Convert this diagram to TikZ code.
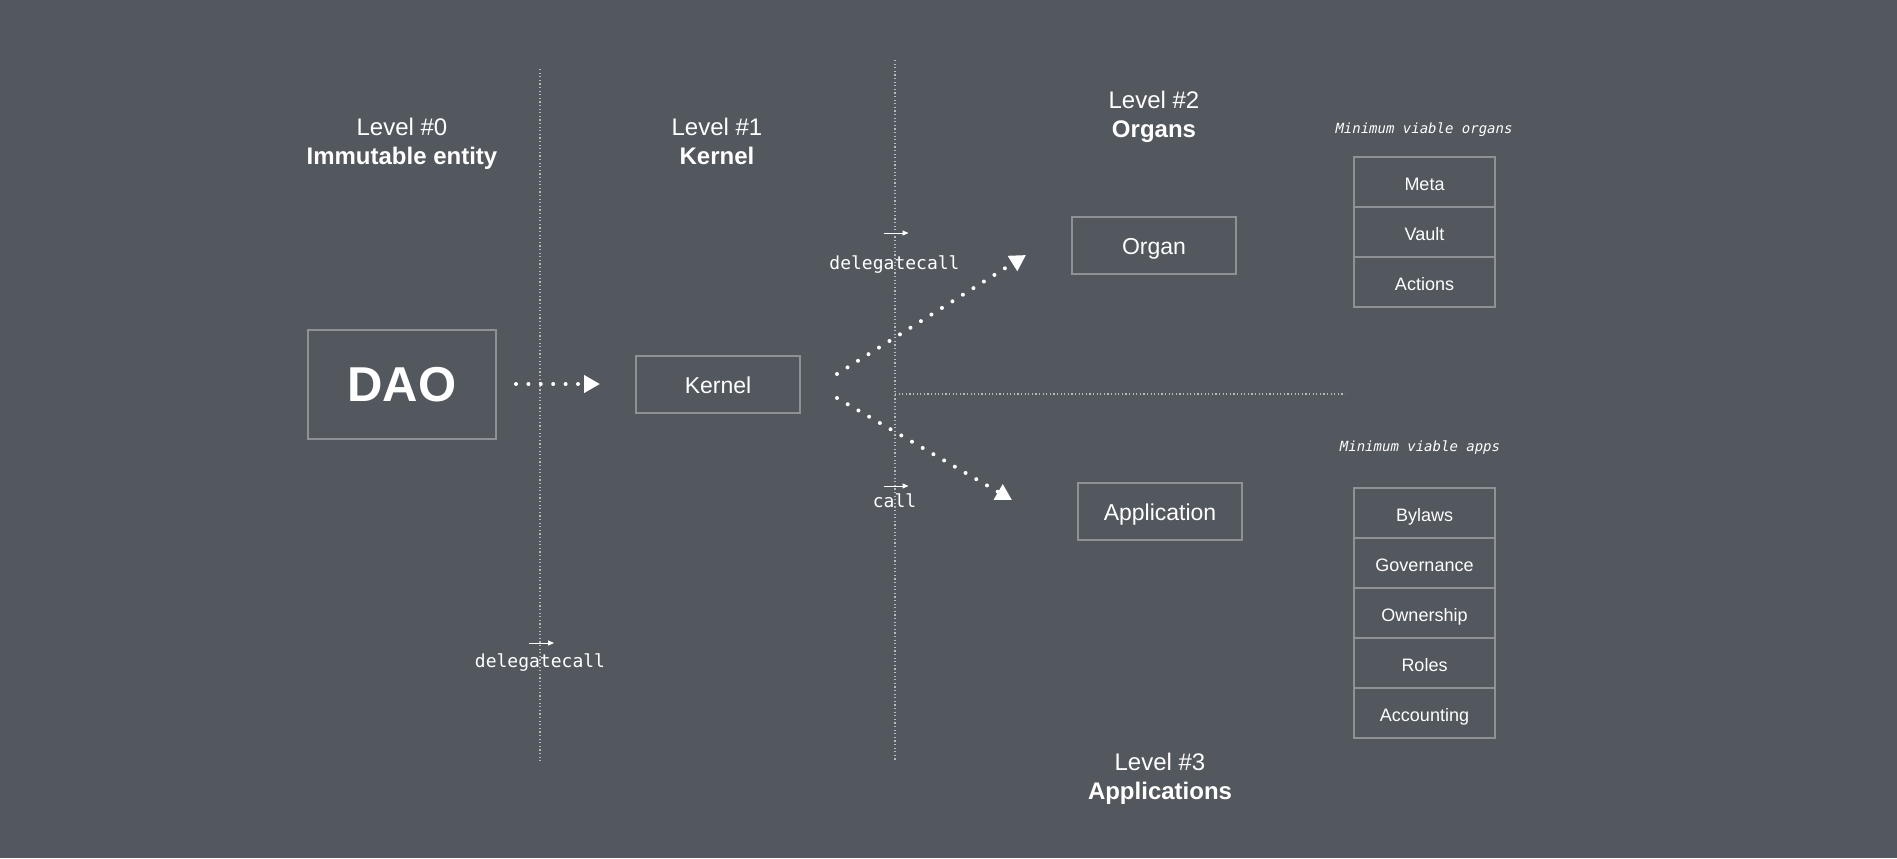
\documentclass[tikz,border=0pt]{standalone}
\usepackage{fontspec}
\setmainfont{Liberation Sans}
\setmonofont{DejaVu Sans Mono}
\usetikzlibrary{arrows.meta,positioning}
\definecolor{bg}{HTML}{53575E}
\definecolor{edge}{HTML}{8E9196}
\definecolor{guide}{HTML}{B8BABE}
\tikzset{
  box/.style={draw=edge, line width=1pt, text=white, minimum width=82pt, minimum height=28.5pt, text height=9.5pt, text depth=0pt, font=\fontsize{11.5}{14}\selectfont},
  cell/.style={draw=edge, line width=1pt, text=white, minimum width=70.5pt, minimum height=25pt, text height=8.5pt, text depth=0pt, outer sep=0pt, font=\fontsize{9}{11}\selectfont},
  level/.style={text=white, align=center, font=\fontsize{12}{14.5}\selectfont},
  code/.style={text=white, anchor=base, inner sep=0pt, font=\ttfamily\fontsize{9}{11}\selectfont},
  note/.style={text=white, font=\ttfamily\itshape\fontsize{7}{9}\selectfont},
  guide/.style={draw=guide, line width=0.6pt, dash pattern=on 0.6pt off 1.2pt},
  flow/.style={draw=white, line width=2pt, line cap=round, dash pattern=on 0pt off 6.2pt, -{Triangle[length=8pt,width=8.5pt]}},
  tag/.style={draw=white, line width=0.5pt, -{Triangle[length=3pt,width=2.5pt]}}
}
\begin{document}
\begin{tikzpicture}[x=0.5pt, y=-0.5pt]
\fill[bg] (0,0) rectangle (1897,858);
\useasboundingbox (0,0) rectangle (1897,858);

% level guides
\draw[guide] (540,69) -- (540,762);
\draw[guide] (895,60) -- (895,760);
\draw[guide] (895,394) -- (1345,394);

% level headings
\node (lvl0) at (402,144) [level] {Level \#0\\\textbf{Immutable entity}};
\node (lvl1) at (717,141.5) [level] {Level \#1\\\textbf{Kernel}};
\node (lvl2) at (1154,117) [level] {Level \#2\\\textbf{Organs}};
\node (lvl3) at (1160,779) [level] {Level \#3\\\textbf{Applications}};

% main boxes
\node (dao) at (402,384) [box, minimum width=94pt, minimum height=54.5pt, text height=17.5pt, font=\bfseries\fontsize{24.5}{28}\selectfont] {DAO};
\node (kernel) at (718,384) [box] {Kernel};
\node (organ) at (1154,245) [box] {Organ};
\node (app) at (1160,511) [box] {Application};

% minimum viable organs
\node (note organs) at (1424,130) [note] {Minimum viable organs};
\node (meta) at (1424.5,182) [cell] {Meta};
\node (vault) [cell, below=0pt of meta] {Vault};
\node (actions) [cell, below=0pt of vault] {Actions};

% minimum viable apps
\node (note apps) at (1420,448) [note] {Minimum viable apps};
\node (bylaws) at (1424.5,513) [cell] {Bylaws};
\node (governance) [cell, below=0pt of bylaws] {Governance};
\node (ownership) [cell, below=0pt of governance] {Ownership};
\node (roles) [cell, below=0pt of ownership] {Roles};
\node (accounting) [cell, below=0pt of roles] {Accounting};

% calls
\coordinate (fork up) at (837,374);
\coordinate (fork down) at (837,398);
\coordinate (organ in) at (1026,255);
\coordinate (app in) at (1012,500);

\draw[flow, shorten <=9.5pt, shorten >=17.5pt] (dao) -- (kernel);
\draw[flow] (fork up) -- (organ in);
\draw[flow] (fork down) -- (app in);

% call labels
\node (dc kernel) at (540,667) [code] {delegatecall};
\node (dc organ) at (894.5,269) [code] {delegatecall};
\node (call app) at (894.5,507) [code] {call};

\draw[tag] ([shift={(-11,-24)}]dc kernel.base) -- ([shift={(14,-24)}]dc kernel.base);
\draw[tag] ([shift={(-11,-36)}]dc organ.base) -- ([shift={(14,-36)}]dc organ.base);
\draw[tag] ([shift={(-11,-21)}]call app.base) -- ([shift={(14,-21)}]call app.base);
\end{tikzpicture}
\end{document}
